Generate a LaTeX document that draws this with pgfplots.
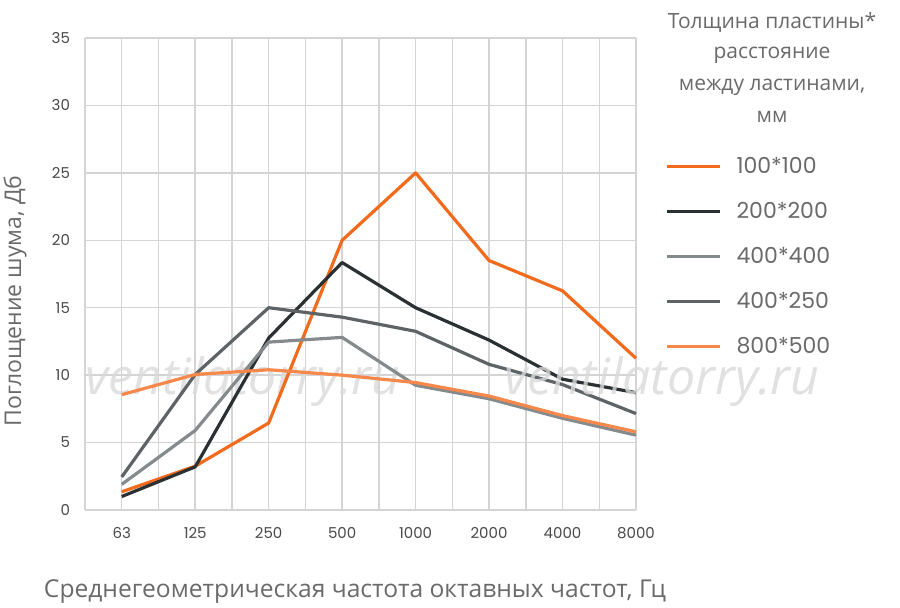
\documentclass[border=0pt]{standalone}
\usepackage{fontspec}
\setmainfont{Open Sans}
\newfontfamily\numfont{Poppins}
\usepackage{pgfplots}
\pgfplotsset{compat=1.18}
\definecolor{cA}{HTML}{F26B1D}
\definecolor{cB}{HTML}{2B3133}
\definecolor{cC}{HTML}{858A8C}
\definecolor{cD}{HTML}{5E6466}
\definecolor{cE}{HTML}{F5884A}
\definecolor{gridc}{HTML}{D4D4D4}
\definecolor{txt}{HTML}{6A6A6A}
\definecolor{tick}{HTML}{4A4A4A}
\begin{document}
\begin{tikzpicture}
\useasboundingbox (0,0) rectangle (450pt,303.5pt);
\begin{axis}[
  at={(42.5pt,48.5pt)}, anchor=south west,
  scale only axis, width=275.5pt, height=236pt,
  xmin=-0.5, xmax=7, ymin=0, ymax=35,
  xtick={0,...,7},
  xticklabels={63,125,250,500,1000,2000,4000,8000},
  minor xtick={-0.5,0.5,1.5,2.5,3.5,4.5,5.5,6.5},
  ytick={0,5,...,35},
  grid=both,
  major grid style={gridc, line width=0.75pt},
  minor grid style={gridc, line width=0.75pt},
  axis line style={draw=none},
  major tick length=0pt, minor tick length=0pt,
  /pgf/number format/assume math mode=true,
  tick label style={font=\numfont\fontsize{7.5}{9}\selectfont, text=tick},
  yticklabel style={xshift=-4pt},
  xticklabel style={yshift=-5pt},
  clip=false,
  legend style={at={(1.0526,0.747)}, anchor=north west, draw=none, fill=none,
    font=\numfont\fontsize{11}{13}\selectfont, text=txt,
    row sep=13.5pt, inner sep=0pt,
    nodes={inner sep=0pt, text height=8pt, text depth=1pt}},
  legend cell align=left,
  legend image code/.code={\draw[#1, line width=1.6pt] (0pt,0pt) -- (26.5pt,0pt);},
  every axis plot/.append style={line width=1.6pt, mark=none, line join=round},
]
\node[inner sep=0pt, font=\itshape\fontsize{25}{28}\selectfont, text=gray!30, opacity=0.8] at (axis cs:1.65,9.5) {ventilatorry.ru};
\addplot[cA] coordinates {(0,1.35) (1,3.25) (2,6.45) (3,20.0) (4,25.0) (5,18.5) (6,16.25) (7,11.25)};
\addlegendentry{\hspace{7.5pt}100*100}
\addplot[cB] coordinates {(0,1.0) (1,3.2) (2,12.75) (3,18.35) (4,15.0) (5,12.6) (6,9.7) (7,8.7)};
\addlegendentry{\hspace{7.5pt}200*200}
\addplot[cC] coordinates {(0,1.9) (1,5.9) (2,12.45) (3,12.8) (4,9.25) (5,8.25) (6,6.8) (7,5.55)};
\addlegendentry{\hspace{7.5pt}400*400}
\addplot[cD] coordinates {(0,2.45) (1,10.05) (2,15.0) (3,14.3) (4,13.25) (5,10.8) (6,9.3) (7,7.15)};
\addlegendentry{\hspace{7.5pt}400*250}
\addplot[cE] coordinates {(0,8.55) (1,10.05) (2,10.4) (3,10.0) (4,9.45) (5,8.45) (6,7.0) (7,5.8)};
\addlegendentry{\hspace{7.5pt}800*500}
\node[inner sep=0pt, font=\itshape\fontsize{25}{28}\selectfont, text=gray!30, opacity=0.8] at (axis cs:7.35,9.5) {ventilatorry.ru};
\end{axis}
\begin{scope}[every node/.style={text=txt, font=\fontsize{10.5}{12}\selectfont}]
\node at (386pt,292.5pt) {Толщина пластины*};
\node at (386pt,276pt) {расстояние};
\node at (386pt,260pt) {между ластинами,};
\node at (386pt,245pt) {мм};
\node[font=\fontsize{12.3}{14}\selectfont] at (177.5pt,7.5pt) {Среднегеометрическая частота октавных частот, Гц};
\node[rotate=90, font=\fontsize{11.5}{13}\selectfont] at (7.5pt,153pt) {Поглощение шума, Дб};
\end{scope}
\end{tikzpicture}
\end{document}
